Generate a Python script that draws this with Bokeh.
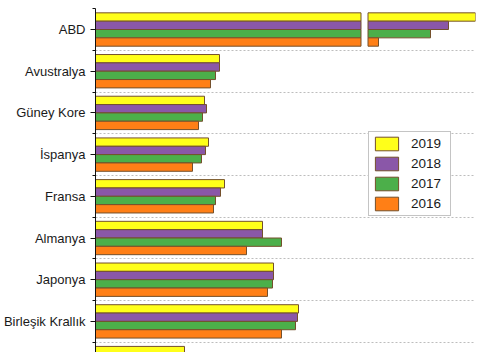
from bokeh.plotting import figure
from bokeh.models import Range1d, FixedTicker, ColumnDataSource, Legend, LegendItem
from bokeh.embed import file_html
from bokeh.resources import INLINE

countries = ["ABD", "Avustralya", "Güney Kore", "İspanya", "Fransa",
             "Almanya", "Japonya", "Birleşik Krallık", "Türkiye"]
years = ["2019", "2018", "2017", "2016"]
v2019 = [381, 124, 109, 113, 129, 167, 178, 203, 89]
v2018 = [353, 124, 111, 110, 125, 167, 178, 202, 81]
v2017 = [335, 120, 107, 106, 120, 186, 177, 200, 76]
v2016 = [283, 115, 103, 97, 118, 151, 172, 186, 70]
series = [v2019, v2018, v2017, v2016]
colors = ["#ffff1a", "#8a57a8", "#4caf4a", "#ff7f16"]
break_lo, break_hi = 265.5, 272.5

p = figure(width=477, height=352, output_backend="svg", toolbar_location=None,
           x_range=Range1d(0, 380), y_range=Range1d(7.746, -0.504),
           x_axis_location=None, min_border_left=95, min_border_right=2,
           min_border_top=8, min_border_bottom=0)
p.outline_line_color = None
p.background_fill_color = "white"
p.border_fill_color = "white"

ax = p.yaxis[0]
ax.ticker = FixedTicker(ticks=list(range(len(countries))),
                        minor_ticks=[i + 0.5 for i in range(-1, len(countries))])
ax.major_label_overrides = {i: c for i, c in enumerate(countries)}
ax.major_label_text_font = "Liberation Sans"
ax.major_label_text_font_size = "13px"
ax.major_label_text_color = "#1a1a1a"
ax.major_label_standoff = 5
ax.major_tick_out = 5
ax.major_tick_in = 0
ax.minor_tick_out = 3
ax.minor_tick_in = 0
ax.axis_line_color = "#111111"
ax.major_tick_line_color = "#111111"
ax.minor_tick_line_color = "#111111"

p.xgrid.visible = False
p.ygrid.ticker = FixedTicker(ticks=[i + 0.5 for i in range(len(countries))])
p.ygrid.grid_line_color = "#bdbdbd"
p.ygrid.grid_line_dash = "2 2"

offsets = [-0.3, -0.1, 0.1, 0.3]
items = []
for vals, col, off, yr in zip(series, colors, offsets, years):
    ys = [i + off for i in range(len(countries))]
    lefts = [0] * len(vals)
    rights = [min(v, break_lo) if v > break_hi else v for v in vals]
    src = ColumnDataSource(dict(y=ys, left=lefts, right=rights))
    r = p.hbar(y="y", left="left", right="right", height=0.2, source=src,
               fill_color=col, line_color="#74502c", line_width=1)
    items.append(LegendItem(label=yr, renderers=[r]))
    # pieces beyond the axis break
    by = [y for y, v in zip(ys, vals) if v > break_hi]
    bv = [v for v in vals if v > break_hi]
    if bv:
        src2 = ColumnDataSource(dict(y=by, left=[break_hi] * len(bv), right=bv))
        p.hbar(y="y", left="left", right="right", height=0.2, source=src2,
               fill_color=col, line_color="#74502c", line_width=1)

legend = Legend(items=items, location=(273, 136))
legend.label_text_font = "Liberation Sans"
legend.label_text_font_size = "13.5px"
legend.label_text_color = "#1a1a1a"
legend.glyph_width = 29
legend.glyph_height = 17
legend.spacing = 3
legend.padding = 3
legend.margin = 0
legend.label_standoff = 10
legend.label_height = 17
legend.label_width = 36
legend.border_line_color = "#8a8a8a"
legend.border_line_width = 1
legend.background_fill_color = "white"
legend.background_fill_alpha = 1
p.add_layout(legend)

open("out.html", "w").write(file_html(p, INLINE))
